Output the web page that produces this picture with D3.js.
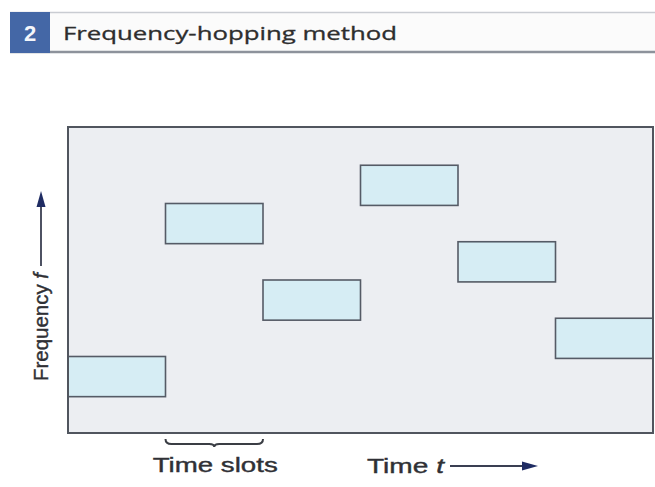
<!DOCTYPE html>
<html>
<head>
<meta charset="utf-8">
<script src="https://cdn.jsdelivr.net/npm/d3@7"></script>
<style>
  html, body { margin: 0; padding: 0; background: #ffffff; }
  svg { display: block; }
</style>
</head>
<body>
<svg id="chart" width="655" height="487"></svg>
<script>
// ---- data ----
const figureNumber = "2";
const title = "Frequency-hopping method";
const timeSlots = [1, 2, 3, 4, 5, 6];          // slot index
const channels  = [1, 5, 3, 6, 4, 2];          // frequency channel (lower edge) per slot
const channelCount = 8;                         // frequency range shown
const xLabel = "Time";
const yLabel = "Frequency";
const slotLabel = "Time slots";
const braceSlot = 2;                            // slot marked by the brace

// ---- layout ----
const svg = d3.select("#chart");
const frame = { left: 68, right: 653, top: 127, bottom: 433 };
const barSpan = 1.05;

const x = d3.scaleLinear().domain([0, timeSlots.length]).range([frame.left, frame.right]);
const y = d3.scaleLinear().domain([0, channelCount]).range([frame.bottom, frame.top]);

// header band
svg.append("rect").attr("x", 10).attr("y", 12).attr("width", 645).attr("height", 40)
  .attr("fill", "#fbfbfb");
svg.append("line").attr("x1", 10).attr("x2", 655).attr("y1", 12.5).attr("y2", 12.5)
  .attr("stroke", "#c9ccd2").attr("stroke-width", 1.5);
svg.append("line").attr("x1", 10).attr("x2", 655).attr("y1", 52).attr("y2", 52)
  .attr("stroke", "#8d929b").attr("stroke-width", 2.5);
svg.append("rect").attr("x", 10).attr("y", 12).attr("width", 40).attr("height", 41)
  .attr("fill", "#4467a6");
svg.append("text").attr("x", 30).attr("y", 41).attr("text-anchor", "middle")
  .attr("font-family", "Liberation Sans, Arial, sans-serif").attr("font-weight", "bold")
  .attr("font-size", 22).attr("fill", "#f4f6fb").text(figureNumber);
svg.append("text").attr("x", 63).attr("y", 40)
  .attr("font-family", "Open Sans, DejaVu Sans, sans-serif")
  .attr("font-size", 18).attr("fill", "#2e2e2e")
  .attr("stroke", "#2e2e2e").attr("stroke-width", 0.3)
  .attr("textLength", 334).attr("lengthAdjust", "spacingAndGlyphs")
  .text(title);

// plot background
svg.append("rect")
  .attr("x", x(0)).attr("y", y(channelCount))
  .attr("width", x(timeSlots.length) - x(0)).attr("height", y(0) - y(channelCount))
  .attr("fill", "#eceef2");

// hop bars
svg.append("g").selectAll("rect")
  .data(timeSlots.map((s, i) => ({ slot: s, ch: channels[i] })))
  .join("rect")
  .attr("x", d => x(d.slot - 1))
  .attr("y", d => y(d.ch + 1))
  .attr("width", d => x(d.slot) - x(d.slot - 1))
  .attr("height", d => y(d.ch + 1 - barSpan) - y(d.ch + 1))
  .attr("fill", "#d6edf4")
  .attr("stroke", "#555b66")
  .attr("stroke-width", 1.6);

// frame
svg.append("rect")
  .attr("x", x(0)).attr("y", y(channelCount))
  .attr("width", x(timeSlots.length) - x(0)).attr("height", y(0) - y(channelCount))
  .attr("fill", "none").attr("stroke", "#50555e").attr("stroke-width", 2);

// brace under one slot
const bx0 = x(braceSlot - 1), bx1 = x(braceSlot), bm = (bx0 + bx1) / 2, by = frame.bottom + 11;
svg.append("path")
  .attr("d", `M${bx0},${by - 5} Q${bx0},${by} ${bx0 + 6},${by} L${bm - 5},${by} Q${bm},${by} ${bm},${by + 3} Q${bm},${by} ${bm + 5},${by} L${bx1 - 6},${by} Q${bx1},${by} ${bx1},${by - 5}`)
  .attr("fill", "none").attr("stroke", "#3a3d44").attr("stroke-width", 2);

const labelFont = "Liberation Sans, Arial, sans-serif";
const textColor = "#2f3035";
svg.append("text").attr("x", bm + 1).attr("y", 472).attr("text-anchor", "middle")
  .attr("font-family", labelFont).attr("font-size", 21).attr("fill", textColor)
  .attr("stroke", textColor).attr("stroke-width", 0.4)
  .attr("textLength", 125).attr("lengthAdjust", "spacingAndGlyphs")
  .text(slotLabel);

// x label with arrow
const xl = svg.append("text").attr("x", 367).attr("y", 473)
  .attr("font-family", labelFont).attr("font-size", 21).attr("fill", textColor)
  .attr("stroke", textColor).attr("stroke-width", 0.4)
  .attr("textLength", 77).attr("lengthAdjust", "spacingAndGlyphs");
xl.append("tspan").text(xLabel + " ");
xl.append("tspan").attr("font-style", "italic").text("t");
svg.append("line").attr("x1", 450).attr("x2", 526).attr("y1", 466).attr("y2", 466)
  .attr("stroke", "#3a3f52").attr("stroke-width", 1.8);
svg.append("path").attr("d", "M538,466 L522,461.5 L522,470.5 Z").attr("fill", "#1f2c63");

// y label with arrow
const yl = svg.append("text")
  .attr("transform", "translate(48,381) rotate(-90)")
  .attr("font-family", labelFont).attr("font-size", 21).attr("fill", textColor)
  .attr("stroke", textColor).attr("stroke-width", 0.4)
  .attr("textLength", 108).attr("lengthAdjust", "spacingAndGlyphs");
yl.append("tspan").text(yLabel + " ");
yl.append("tspan").attr("font-style", "italic").text("f");
svg.append("line").attr("x1", 41).attr("x2", 41).attr("y1", 266).attr("y2", 204)
  .attr("stroke", "#3a3f52").attr("stroke-width", 1.8);
svg.append("path").attr("d", "M41,191 L36.5,207 L45.5,207 Z").attr("fill", "#1f2c63");
</script>
</body>
</html>
